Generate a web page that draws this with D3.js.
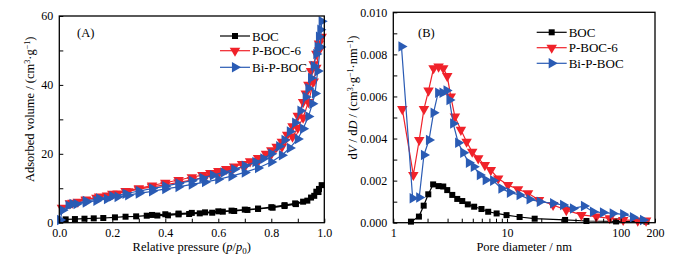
<!DOCTYPE html>
<html>
<head>
<meta charset="utf-8">
<script src="https://cdn.jsdelivr.net/npm/d3@7"></script>
<style>
  body { margin: 0; background: #fff; }
  svg, svg text { font-family: "Liberation Serif", "Times New Roman", "DejaVu Serif", serif; }
</style>
</head>
<body>
<div id="chart"></div>
<script>
// DATA - panel A, isotherms (adsorption then desorption, in plot order)
const bocP = [0.024,0.059,0.095,0.13,0.166,0.21,0.25,0.29,0.33,0.37,0.41,0.45,0.49,0.53,0.577,0.617,0.66,0.71,0.75,0.805,0.85,0.893,0.936,0.962,0.978,0.99,
              0.98,0.97,0.95,0.92,0.89,0.85,0.8,0.75,0.7,0.65,0.6,0.55,0.5,0.45,0.4,0.35];
const bocV = [0.97,1.06,1.16,1.26,1.36,1.55,1.74,1.84,2.03,2.08,2.13,2.42,2.52,2.71,2.9,3.2,3.4,3.7,4.0,4.36,4.84,5.4,6.4,7.8,8.9,10.9,
              9.8,9.0,7.3,6.1,5.6,5.1,4.5,4.1,3.8,3.5,3.3,3.0,2.85,2.65,2.45,2.25];

const pbocP = [0.01,0.04,0.07,0.1,0.14,0.18,0.22,0.26,0.3,0.35,0.4,0.45,0.5,0.55,0.6,0.65,0.7,0.75,0.8,0.84,0.88,0.9,0.92,0.94,0.96,0.97,0.98,0.99,
               0.98,0.97,0.96,0.95,0.94,0.93,0.92,0.9,0.88,0.86,0.84,0.82,0.8,0.78,0.75,0.72,0.69,0.66,0.63,0.6,0.57,0.54,0.5,0.45,0.4,0.35,0.3,0.25,0.2,0.15,0.1,0.05];
const pbocV = [4.3,5.6,6.1,6.6,7.2,7.9,8.5,9.1,9.7,10.4,11.0,11.7,12.4,13.2,14.1,15.1,16.3,17.8,19.9,22.0,25.0,27.5,30.5,35,41,45,50,54,
               52,49,46,44,40,37.5,35,31,28,25.5,23.5,22,21,20,18.8,17.8,17,16.3,15.6,15,14.4,13.8,13.2,12.4,11.6,10.8,10,9.2,8.4,7.6,6.7,5.8];

const bipP = [0.003,0.012,0.035,0.065,0.1,0.14,0.18,0.22,0.26,0.3,0.35,0.4,0.45,0.5,0.55,0.6,0.65,0.7,0.75,0.8,0.84,0.87,0.9,0.92,0.94,0.955,0.965,0.975,0.985,0.99,
              0.985,0.98,0.975,0.97,0.96,0.95,0.94,0.93,0.91,0.89,0.87,0.85,0.83,0.8,0.77,0.74,0.7,0.66,0.62,0.58,0.54,0.5,0.45,0.4,0.35,0.3,0.25,0.2,0.15,0.1,0.05];
const bipV = [0.8,3.6,5.0,5.4,5.9,6.4,6.9,7.5,8.0,8.5,9.1,9.8,10.4,11.1,11.8,12.6,13.5,14.6,15.9,17.6,19.6,21.7,24.3,27.3,30.8,34.5,37.5,44,51,58.5,
              56,54,51,49,45.5,42,39,36.5,32.5,29,26.5,24,22.2,20,18.6,17.6,16.5,15.5,14.6,13.8,13.0,12.2,11.4,10.6,9.9,9.2,8.4,7.7,7.0,6.3,5.4];

// DATA - panel B, pore size distribution
const bocD = [1.43,1.68,1.85,2.03,2.24,2.5,2.75,2.98,3.3,3.65,4.04,4.52,5.14,5.96,6.83,8.1,9.9,12.9,17.5,32.4,49.9,91,168];
const bocY = [0.00005,0.00029,0.00081,0.00135,0.00182,0.00174,0.00172,0.00155,0.00132,0.00113,0.00103,0.00087,0.00076,0.00065,0.00052,0.00044,0.00036,0.00027,0.00019,0.00013,0.00008,0.00006,0.00005];

const pbocD = [1.2,1.5,1.69,1.86,2.04,2.26,2.5,2.75,2.98,3.2,3.48,3.93,4.41,4.94,5.58,6.38,7.2,8.36,10.2,12.5,15.3,19.1,25.4,33.2,45.1,61,80,105,141,167];
const pbocY = [0.0054,0.00227,0.00393,0.0054,0.00628,0.00734,0.00742,0.00734,0.00697,0.006,0.00504,0.00441,0.00385,0.00337,0.00306,0.00274,0.0025,0.0021,0.00179,0.00159,0.0014,0.00108,0.00084,0.0006,0.00037,0.00029,0.00021,0.00013,0.0001,0.0001];

const bipD = [1.18,1.48,1.69,1.86,2.06,2.26,2.48,2.71,2.94,3.12,3.36,3.72,4.12,4.62,5.1,5.77,6.5,7.55,8.93,10.6,12.9,15.8,19.4,25.4,31.1,38,47.5,57,69.8,85,105,128,157];
const bipY = [0.00837,0.00116,0.0012,0.00322,0.00393,0.00523,0.00618,0.00618,0.00628,0.00583,0.00472,0.0038,0.00333,0.00285,0.00266,0.00227,0.00203,0.002,0.00163,0.00143,0.00132,0.00111,0.001,0.00092,0.00084,0.00068,0.00079,0.00052,0.00048,0.00044,0.0004,0.00026,0.00013];

const names = ["BOC", "P-BOC-6", "Bi-P-BOC"];
const colors = ["#000000", "#f0222a", "#2a5bb4"];
const shapes = ["square", "down", "right"];

// tick labels
const aXTicks = [0,0.1,0.2,0.3,0.4,0.5,0.6,0.7,0.8,0.9,1.0];
const aYTicks = [0,10,20,30,40,50,60];
const bXTicks = [1,2,3,4,5,6,7,8,9,10,20,30,40,50,60,70,80,90,100,200];
const bXLabels = [1,10,100,200];
const bYTicks = [0,0.001,0.002,0.003,0.004,0.005,0.006,0.007,0.008,0.009,0.010];

const width = 675, height = 266;
const FONT = "Liberation Serif";

const svg = d3.select("#chart").append("svg")
  .attr("width", width)
  .attr("height", height)
  .attr("font-family", FONT);

// marker drawing
function marker(g, shape, color) {
  if (shape === "square") {
    g.append("rect").attr("x", -3).attr("y", -3).attr("width", 6).attr("height", 6).attr("fill", color);
  } else {
    g.append("path")
      .attr("d", d3.symbol(d3.symbolTriangle, 48)())
      .attr("transform", shape === "down" ? "rotate(180)" : "rotate(90)")
      .attr("fill", color);
  }
}

function drawSeries(g, xs, ys, xScale, yScale, color, shape) {
  const pts = xs.map((x, i) => [xScale(x), yScale(ys[i])]);
  g.append("path")
    .attr("d", d3.line()(pts))
    .attr("fill", "none")
    .attr("stroke", color)
    .attr("stroke-width", 1.2);
  pts.forEach(p => {
    const m = g.append("g").attr("transform", `translate(${p[0]},${p[1]})`);
    marker(m, shape, color);
  });
}

function legend(x0, ys) {
  names.forEach((n, i) => {
    const g = svg.append("g");
    g.append("line")
      .attr("x1", x0).attr("x2", x0 + 30)
      .attr("y1", ys[i]).attr("y2", ys[i])
      .attr("stroke", colors[i]).attr("stroke-width", 1.2);
    const m = g.append("g").attr("transform", `translate(${x0 + 15},${ys[i]})`);
    marker(m, shapes[i], colors[i]);
    g.append("text")
      .attr("x", x0 + 32).attr("y", ys[i])
      .attr("dy", "0.35em")
      .attr("font-family", FONT)
      .style("font-size", "13px")
      .text(n);
  });
}

function frame(m) {
  svg.append("rect")
    .attr("x", m.left).attr("y", m.top)
    .attr("width", m.right - m.left).attr("height", m.bottom - m.top)
    .attr("fill", "none").attr("stroke", "#000").attr("stroke-width", 1.3);
}

function styleAxis(g) {
  g.attr("font-family", FONT);
  g.select(".domain").remove();
  g.selectAll(".tick line").attr("stroke", "#000").attr("stroke-width", 1);
  g.selectAll(".tick text").style("font-size", "12px").attr("fill", "#000")
    .attr("font-family", FONT);
}

function label(x, y, size) {
  return svg.append("text")
    .attr("x", x).attr("y", y)
    .attr("font-family", FONT)
    .style("font-size", size + "px");
}

// ---------------- PANEL A ----------------
const mA = {left: 59.3, right: 324.3, top: 16, bottom: 222.7};
const xA = d3.scaleLinear().domain([0, 1]).range([mA.left, mA.right]);
const yA = d3.scaleLinear().domain([0, 60]).range([mA.bottom, mA.top]);

const gA = svg.append("g");
drawSeries(gA, bocP, bocV, xA, yA, colors[0], shapes[0]);
drawSeries(gA, pbocP, pbocV, xA, yA, colors[1], shapes[1]);
drawSeries(gA, bipP, bipV, xA, yA, colors[2], shapes[2]);

svg.append("g")
  .attr("transform", `translate(0,${mA.bottom})`)
  .call(d3.axisBottom(xA).tickValues(aXTicks).tickSize(-4).tickPadding(6)
    .tickFormat((d, i) => i % 2 === 0 ? d3.format(".1f")(d) : ""))
  .call(styleAxis);

svg.append("g")
  .attr("transform", `translate(${mA.left},0)`)
  .call(d3.axisLeft(yA).tickValues(aYTicks).tickSize(-4).tickPadding(6)
    .tickFormat(d => d % 20 === 0 ? d : ""))
  .call(styleAxis);

frame(mA);
legend(220, [36, 50.7, 67.3]);

label(77, 33, 12.5).attr("dy", "0.35em").text("(A)");

// x title A
const xtA = label((mA.left + mA.right) / 2, 251, 12.5).attr("text-anchor", "middle");
xtA.append("tspan").text("Relative pressure (");
xtA.append("tspan").style("font-style", "italic").text("p");
xtA.append("tspan").text("/");
xtA.append("tspan").style("font-style", "italic").text("p");
xtA.append("tspan").attr("dy", 3).style("font-size", "9px").text("0");
xtA.append("tspan").attr("dy", -3).text(")");

// y title A
const ytA = label(0, 0, 12.5)
  .attr("transform", `translate(34,${(mA.top + mA.bottom) / 2 - 10}) rotate(-90)`)
  .attr("text-anchor", "middle");
ytA.append("tspan").text("Adsorbed volume / (cm");
ytA.append("tspan").attr("dy", -4).style("font-size", "8px").text("3");
ytA.append("tspan").attr("dy", 4).text("·g");
ytA.append("tspan").attr("dy", -4).style("font-size", "8px").text("−1");
ytA.append("tspan").attr("dy", 4).text(")");

// ---------------- PANEL B ----------------
const mB = {left: 393.3, right: 655, top: 12.3, bottom: 222.7};
const xB = d3.scaleLog().domain([1, 200]).range([mB.left, mB.right]);
const yB = d3.scaleLinear().domain([0, 0.010]).range([mB.bottom, mB.top]);

const gB = svg.append("g");
drawSeries(gB, bocD, bocY, xB, yB, colors[0], shapes[0]);
drawSeries(gB, pbocD, pbocY, xB, yB, colors[1], shapes[1]);
drawSeries(gB, bipD, bipY, xB, yB, colors[2], shapes[2]);

svg.append("g")
  .attr("transform", `translate(0,${mB.bottom})`)
  .call(d3.axisBottom(xB).tickValues(bXTicks).tickSize(-4).tickPadding(6)
    .tickFormat(d => bXLabels.includes(d) ? d : ""))
  .call(styleAxis);

svg.append("g")
  .attr("transform", `translate(${mB.left},0)`)
  .call(d3.axisLeft(yB).tickValues(bYTicks).tickSize(-4).tickPadding(6)
    .tickFormat((d, i) => i % 2 === 0 ? d3.format(".3f")(d) : ""))
  .call(styleAxis);

frame(mB);
legend(536.7, [32.3, 47.7, 63.3]);

label(418, 33, 12.5).attr("dy", "0.35em").text("(B)");

label((mB.left + mB.right) / 2, 251, 12.5)
  .attr("text-anchor", "middle")
  .text("Pore diameter / nm");

const ytB = label(0, 0, 12.5)
  .attr("transform", `translate(357,${(mB.top + mB.bottom) / 2 - 20}) rotate(-90)`)
  .attr("text-anchor", "middle");
ytB.append("tspan").text("d");
ytB.append("tspan").style("font-style", "italic").text("V");
ytB.append("tspan").text(" / d");
ytB.append("tspan").style("font-style", "italic").text("D");
ytB.append("tspan").text(" / (cm");
ytB.append("tspan").attr("dy", -4).style("font-size", "8px").text("3");
ytB.append("tspan").attr("dy", 4).text("·g");
ytB.append("tspan").attr("dy", -4).style("font-size", "8px").text("−1");
ytB.append("tspan").attr("dy", 4).text("·nm");
ytB.append("tspan").attr("dy", -4).style("font-size", "8px").text("−1");
ytB.append("tspan").attr("dy", 4).text(")");
</script>
</body>
</html>
